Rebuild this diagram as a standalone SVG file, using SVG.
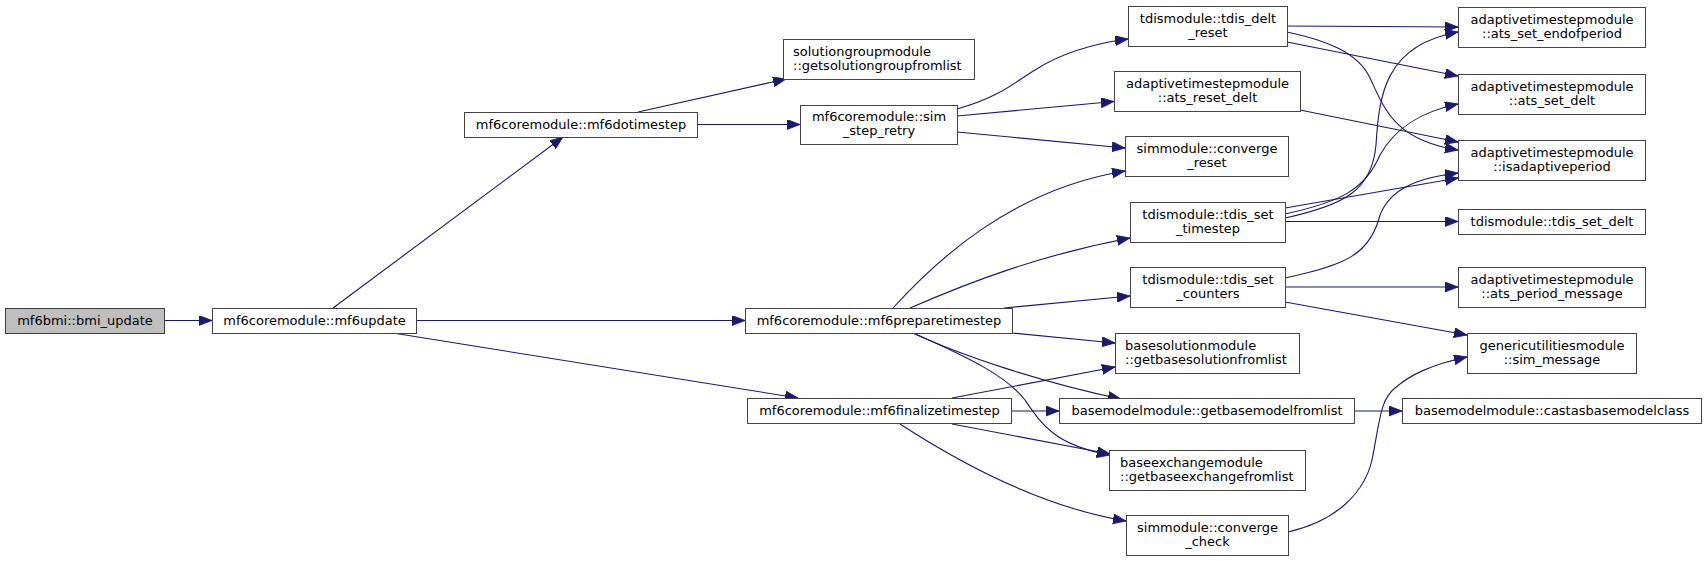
<svg xmlns="http://www.w3.org/2000/svg" width="1707" height="561" viewBox="0 0 1707 561">
<style>
.n rect{fill:#fff;stroke:#444;stroke-width:1}
.n.root rect{fill:#bfbfbf;stroke:#404040}
.n text{font-family:"DejaVu Sans","Liberation Sans",sans-serif;font-size:13px;fill:#000}
.c{text-anchor:middle}
.e path{fill:none;stroke:#191970;stroke-width:1.1}
</style>
<defs>
<marker id="a" markerUnits="userSpaceOnUse" markerWidth="14" markerHeight="11" refX="13" refY="5" orient="auto">
<path d="M0,0 L13,5 L0,10 z" fill="#191970" stroke="#191970" stroke-width="0.8"/>
</marker>
</defs>
<rect width="1707" height="561" fill="#fff"/>
<g id="edges" class="e">
<path marker-end="url(#a)" d="M164,320.5 L212,320.5"/>
<path marker-end="url(#a)" d="M333,308 L563,137"/>
<path marker-end="url(#a)" d="M416,320.5 L745,320.5"/>
<path marker-end="url(#a)" d="M393,333 L798,398"/>
<path marker-end="url(#a)" d="M638,112 L786,79"/>
<path marker-end="url(#a)" d="M697,124.5 L800,124.5"/>
<path marker-end="url(#a)" d="M957,109 C1000,97 1015,82 1035,70 C1060,54 1090,44 1128,39"/>
<path marker-end="url(#a)" d="M957,116 L1114,101.5"/>
<path marker-end="url(#a)" d="M957,132 L1125,148"/>
<path marker-end="url(#a)" d="M893,308 C935,262 1010,190 1125,171"/>
<path marker-end="url(#a)" d="M910,308 C970,282 1040,255 1130,238"/>
<path marker-end="url(#a)" d="M1004,308 L1130,296"/>
<path marker-end="url(#a)" d="M1012,333 L1115,343"/>
<path marker-end="url(#a)" d="M913,333 C960,355 1040,382 1121,399"/>
<path marker-end="url(#a)" d="M913,333 C975,360 1008,378 1025,400 C1042,425 1055,445 1110,455"/>
<path marker-end="url(#a)" d="M952,398 L1115,367"/>
<path marker-end="url(#a)" d="M1011,411 L1059,411"/>
<path marker-end="url(#a)" d="M952,424 L1110,454"/>
<path marker-end="url(#a)" d="M900,424 C940,450 1030,505 1126,521"/>
<path marker-end="url(#a)" d="M1354,411 L1402,411"/>
<path marker-end="url(#a)" d="M1288,532 C1340,520 1365,490 1372,460 C1380,420 1380,400 1395,388 C1410,375 1430,365 1467,357"/>
<path marker-end="url(#a)" d="M1287,26 L1458,27"/>
<path marker-end="url(#a)" d="M1287,42 L1458,76"/>
<path marker-end="url(#a)" d="M1287,32 C1325,40 1358,52 1370,78 C1385,110 1395,140 1458,150"/>
<path marker-end="url(#a)" d="M1300,110 L1458,142"/>
<path marker-end="url(#a)" d="M1285,218 C1345,205 1372,190 1376,145 C1379,95 1385,45 1458,32"/>
<path marker-end="url(#a)" d="M1285,214 C1340,202 1365,190 1380,155 C1395,128 1420,112 1458,104"/>
<path marker-end="url(#a)" d="M1285,208 L1458,178"/>
<path marker-end="url(#a)" d="M1285,221.5 L1458,221.5"/>
<path marker-end="url(#a)" d="M1285,278 C1345,265 1370,255 1380,215 C1390,190 1415,178 1458,173"/>
<path marker-end="url(#a)" d="M1285,287 L1458,287"/>
<path marker-end="url(#a)" d="M1285,302 L1467,335"/>
</g>
<g id="n1" class="n root"><rect x="5.5" y="308.5" width="159" height="25"/><text class="c" x="85" y="324.5">mf6bmi::bmi_update</text></g>
<g id="n2" class="n"><rect x="212.5" y="308.5" width="204" height="25"/><text class="c" x="314.5" y="324.5">mf6coremodule::mf6update</text></g>
<g id="n3" class="n"><rect x="464.5" y="112.5" width="233" height="25"/><text class="c" x="581" y="128.5">mf6coremodule::mf6dotimestep</text></g>
<g id="n4" class="n"><rect x="783.5" y="39.5" width="191" height="40"/><text x="793" y="55.5">solutiongroupmodule</text><text x="793" y="69.5">::getsolutiongroupfromlist</text></g>
<g id="n5" class="n"><rect x="800.5" y="105.5" width="157" height="39"/><text class="c" x="879" y="121">mf6coremodule::sim</text><text class="c" x="879" y="135">_step_retry</text></g>
<g id="n6" class="n"><rect x="1128.5" y="6.5" width="159" height="40"/><text class="c" x="1208" y="22.5">tdismodule::tdis_delt</text><text class="c" x="1208" y="36.5">_reset</text></g>
<g id="n7" class="n"><rect x="1114.5" y="71.5" width="186" height="40"/><text class="c" x="1207.5" y="87.5">adaptivetimestepmodule</text><text class="c" x="1207.5" y="101.5">::ats_reset_delt</text></g>
<g id="n8" class="n"><rect x="1125.5" y="136.5" width="163" height="40"/><text class="c" x="1207" y="152.5">simmodule::converge</text><text class="c" x="1207" y="166.5">_reset</text></g>
<g id="n9" class="n"><rect x="1130.5" y="202.5" width="155" height="40"/><text class="c" x="1208" y="218.5">tdismodule::tdis_set</text><text class="c" x="1208" y="232.5">_timestep</text></g>
<g id="n10" class="n"><rect x="1130.5" y="267.5" width="155" height="40"/><text class="c" x="1208" y="283.5">tdismodule::tdis_set</text><text class="c" x="1208" y="297.5">_counters</text></g>
<g id="n11" class="n"><rect x="745.5" y="308.5" width="267" height="25"/><text class="c" x="879" y="324.5">mf6coremodule::mf6preparetimestep</text></g>
<g id="n12" class="n"><rect x="1115.5" y="333.5" width="184" height="40"/><text x="1125" y="349.5">basesolutionmodule</text><text x="1125" y="363.5">::getbasesolutionfromlist</text></g>
<g id="n13" class="n"><rect x="1059.5" y="398.5" width="295" height="25"/><text class="c" x="1207" y="414.5">basemodelmodule::getbasemodelfromlist</text></g>
<g id="n14" class="n"><rect x="1109.5" y="450.5" width="196" height="40"/><text x="1120" y="466.5">baseexchangemodule</text><text x="1120" y="480.5">::getbaseexchangefromlist</text></g>
<g id="n15" class="n"><rect x="1126.5" y="515.5" width="162" height="40"/><text class="c" x="1207.5" y="531.5">simmodule::converge</text><text class="c" x="1207.5" y="545.5">_check</text></g>
<g id="n16" class="n"><rect x="747.5" y="398.5" width="264" height="25"/><text class="c" x="879.5" y="414.5">mf6coremodule::mf6finalizetimestep</text></g>
<g id="n17" class="n"><rect x="1458.5" y="7.5" width="187" height="40"/><text class="c" x="1552" y="23.5">adaptivetimestepmodule</text><text class="c" x="1552" y="37.5">::ats_set_endofperiod</text></g>
<g id="n18" class="n"><rect x="1458.5" y="74.5" width="187" height="40"/><text class="c" x="1552" y="90.5">adaptivetimestepmodule</text><text class="c" x="1552" y="104.5">::ats_set_delt</text></g>
<g id="n19" class="n"><rect x="1458.5" y="140.5" width="187" height="40"/><text class="c" x="1552" y="156.5">adaptivetimestepmodule</text><text class="c" x="1552" y="170.5">::isadaptiveperiod</text></g>
<g id="n20" class="n"><rect x="1458.5" y="209.5" width="187" height="25"/><text class="c" x="1552" y="225.5">tdismodule::tdis_set_delt</text></g>
<g id="n21" class="n"><rect x="1458.5" y="267.5" width="187" height="40"/><text class="c" x="1552" y="283.5">adaptivetimestepmodule</text><text class="c" x="1552" y="297.5">::ats_period_message</text></g>
<g id="n22" class="n"><rect x="1467.5" y="333.5" width="169" height="40"/><text class="c" x="1552" y="349.5">genericutilitiesmodule</text><text class="c" x="1552" y="363.5">::sim_message</text></g>
<g id="n23" class="n"><rect x="1402.5" y="398.5" width="299" height="25"/><text class="c" x="1552" y="414.5">basemodelmodule::castasbasemodelclass</text></g>
</svg>
